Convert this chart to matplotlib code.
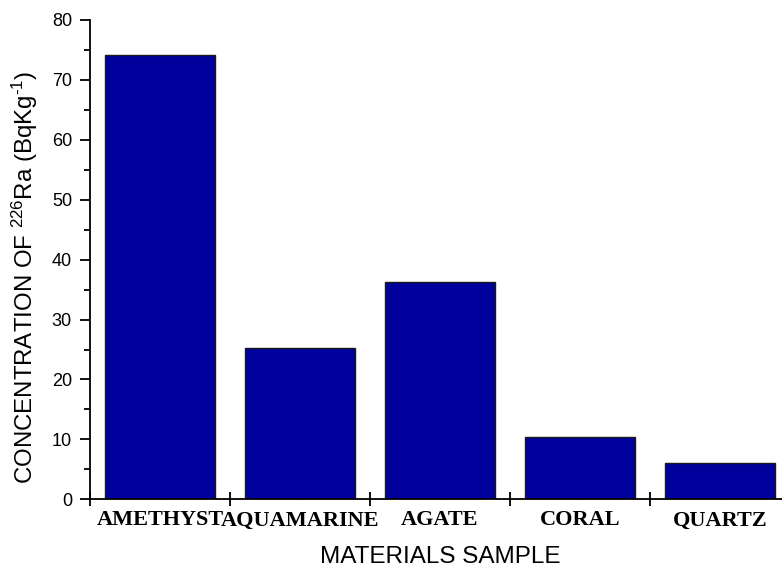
import numpy as np
import matplotlib
matplotlib.use("Agg")
import matplotlib.pyplot as plt

# Radium-226 activity per gemstone sample
samples = ["AMETHYST", "AQUAMARINE", "AGATE", "CORAL", "QUARTZ"]
ra226 = [74.1, 25.3, 36.3, 10.4, 6.1]

bar_color = "#00009c"
sans = "Liberation Sans"
serif = "Liberation Serif"

plt.rcParams["mathtext.fontset"] = "custom"
plt.rcParams["mathtext.rm"] = sans
plt.rcParams["mathtext.default"] = "regular"

fig = plt.figure(figsize=(7.82, 5.69), dpi=100)
ax = fig.add_axes([90 / 782, 69.7 / 569, 700 / 782, 479.3 / 569])

x = np.arange(len(samples))
ax.bar(x, ra226, width=0.78, color=bar_color, edgecolor="#1a1a1a", linewidth=1.0, zorder=2)

ax.set_xlim(-0.5, len(samples) - 0.5)
ax.set_ylim(0, 80)

# only left/bottom axes, Origin style
ax.spines["top"].set_visible(False)
ax.spines["right"].set_visible(False)
ax.spines["left"].set_linewidth(1.3)
ax.spines["bottom"].set_linewidth(1.3)

# y ticks: majors every 10, minors every 5
ax.set_yticks(np.arange(0, 81, 10))
ax.set_yticks(np.arange(5, 80, 10), minor=True)
ax.tick_params(axis="y", which="major", direction="out", length=7, width=1.3,
               labelsize=13, pad=6)
ax.tick_params(axis="y", which="minor", direction="out", length=4, width=1.3)
for lbl in ax.get_yticklabels():
    lbl.set_fontfamily(sans)

# x: boundary ticks crossing the axis, labels at the bar centres
ax.set_xticks(np.arange(-0.5, len(samples), 1.0))
ax.set_xticklabels([])
ax.set_xticks(x, minor=True)
ax.set_xticklabels(samples, minor=True, fontfamily=serif, fontweight="bold", fontsize=16)
ax.tick_params(axis="x", which="major", direction="inout", length=10, width=1.3)
ax.tick_params(axis="x", which="minor", direction="in", length=3, width=1.0,
               color="#999999", pad=8)

ax.set_xlabel("MATERIALS SAMPLE", fontfamily=sans, fontsize=17.5, labelpad=11)
ax.set_ylabel(r"CONCENTRATION OF $^{226}$Ra (BqKg$^{\text{-1}}$)", fontfamily=sans,
              fontsize=17.3)
ax.yaxis.set_label_coords(-0.072, 0.462)

fig.savefig("out.png", dpi=100)
